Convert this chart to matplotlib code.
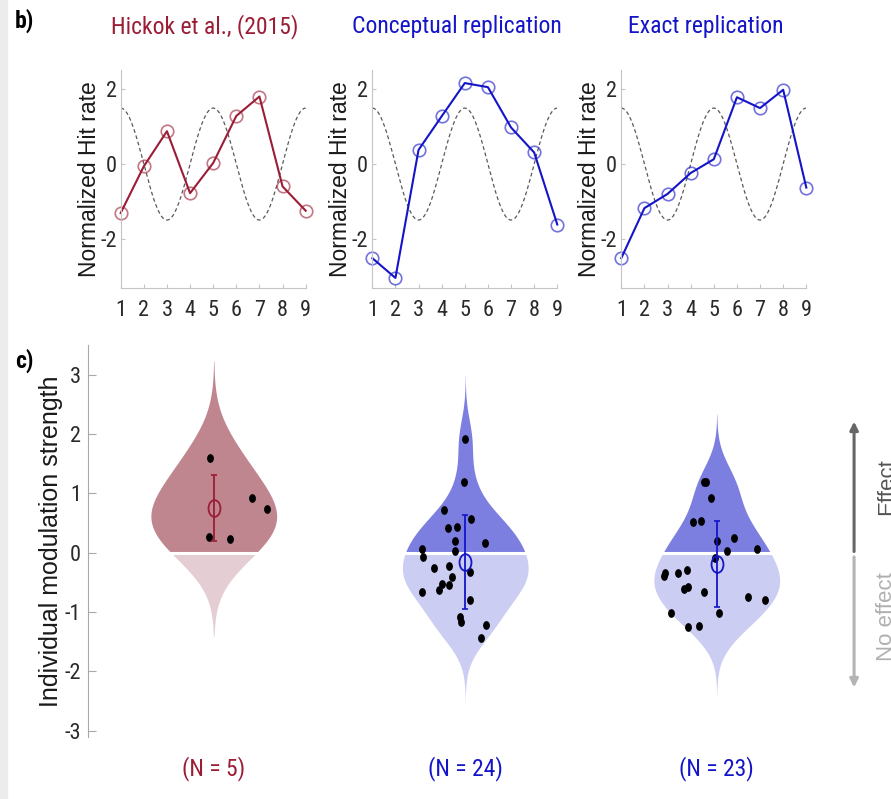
import numpy as np
import matplotlib
matplotlib.use("Agg")
import matplotlib.pyplot as plt
from matplotlib import font_manager as fm
from matplotlib.markers import MarkerStyle
from matplotlib.patches import Rectangle
from matplotlib.transforms import Affine2D

plt.rcParams["axes.unicode_minus"] = False

# -------------------------
# DATA
# -------------------------
phase_bins = [1, 2, 3, 4, 5, 6, 7, 8, 9]
hickok_hits = [-1.31, -0.06, 0.88, -0.78, 0.03, 1.29, 1.81, -0.60, -1.25]
conceptual_hits = [-2.52, -3.05, 0.38, 1.28, 2.17, 2.06, 0.98, 0.31, -1.62]
exact_hits = [-2.52, -1.18, -0.80, -0.24, 0.13, 1.79, 1.50, 1.99, -0.63]

# reference modulation drawn as dashed line
cos_amplitude = 1.5
cos_period = 4.0

group_titles = ["Hickok et al., (2015)", "Conceptual replication", "Exact replication"]
group_n_labels = ["(N = 5)", "(N = 24)", "(N = 23)"]

hickok_strength = [1.59, 0.26, 0.23, 0.93, 0.74]
hickok_jitter = [-0.015, -0.020, 0.066, 0.152, 0.210]

conceptual_strength = [1.91, 1.19, 0.72, 0.56, 0.41, 0.43, 0.20, 0.16, 0.07, 0.03,
                       -0.07, -0.26, -0.22, -0.33, -0.41, -0.52, -0.54, -0.63, -0.66,
                       -0.80, -1.08, -1.16, -1.22, -1.44]
conceptual_jitter = [0.000, -0.004, -0.083, 0.023, -0.068, -0.033, -0.040, 0.078, -0.170,
                     -0.041, -0.168, -0.126, -0.065, 0.017, -0.053, -0.091, -0.064, -0.103,
                     -0.171, 0.020, -0.021, -0.018, 0.082, 0.061]

exact_strength = [1.20, 1.19, 0.93, 0.51, 0.53, 0.25, 0.19, 0.03, 0.06, -0.09,
                  -0.34, -0.40, -0.35, -0.29, -0.58, -0.61, -0.66, -0.75, -0.79,
                  -1.01, -1.01, -1.23, -1.26]
exact_jitter = [-0.050, -0.044, -0.023, -0.094, -0.061, 0.070, 0.000, 0.040, 0.160, -0.007,
                -0.206, -0.210, -0.156, -0.120, -0.113, -0.132, -0.049, 0.126, 0.190,
                -0.180, 0.009, -0.072, -0.114]

# -------------------------
# STYLE
# -------------------------
RED = "#9b1c35"
BLUE = "#1414c8"
line_colors = [RED, BLUE, BLUE]
violin_hi = ["#c0868f", "#7c7fe0", "#7c7fe0"]
violin_lo = ["#e4cdd3", "#cbcdf3", "#cbcdf3"]
SPINE = "#c4c4c4"
TICKTXT = "#2a2a2a"


def pick_font(candidates, default="DejaVu Sans"):
    for fam in candidates:
        try:
            fm.findfont(fm.FontProperties(family=fam), fallback_to_default=False)
            return fam
        except ValueError:
            continue
    return default


NARROW = pick_font(["Liberation Sans Narrow", "Roboto Condensed", "Open Sans Condensed",
                    "Liberation Sans"])
REGULAR = pick_font(["Liberation Sans", "Noto Sans"])

W, H = 891, 799
fig = plt.figure(figsize=(W / 100, H / 100), dpi=100)
fig.patches.append(Rectangle((0, 0), 7 / W, 1, transform=fig.transFigure,
                             color="#ececec", zorder=-10))


def px_box(left, top, right, bottom):
    return [left / W, 1 - bottom / H, (right - left) / W, (bottom - top) / H]


def kde_violin(ax, pos, vals, c_hi, c_lo, half_width=0.25):
    # ksdensity-style normal kernel, bandwidth from MAD, range +/- 3 bw
    vals = np.asarray(vals, dtype=float)
    med = np.median(vals)
    bw = np.median(np.abs(vals - med)) / 0.6745 * (4 / (3 * len(vals))) ** 0.2
    grid = np.linspace(vals.min() - 3 * bw, vals.max() + 3 * bw, 500)
    grid = np.union1d(grid, [0.0])
    dens = np.exp(-0.5 * ((grid[:, None] - vals[None, :]) / bw) ** 2).sum(axis=1)
    w = half_width * dens / dens.max()
    up = grid >= 0
    lo = grid <= 0
    ax.fill_betweenx(grid[up], pos - w[up], pos + w[up], color=c_hi, lw=0, zorder=1)
    ax.fill_betweenx(grid[lo], pos - w[lo], pos + w[lo], color=c_lo, lw=0, zorder=1)
    w0 = np.interp(0.0, grid, w)
    ax.plot([pos - w0 - 0.02, pos + w0 + 0.02], [0, 0], color="white", lw=2.2, zorder=2)


# -------------------------
# PANEL b) : hit rate per phase bin
# -------------------------
series = [hickok_hits, conceptual_hits, exact_hits]
top_lefts = [120.7, 372.3, 621.3]
xs = np.linspace(phase_bins[0], phase_bins[-1], 300)
ref_wave = cos_amplitude * np.cos(2 * np.pi * (xs - phase_bins[0]) / cos_period)

for left, hits, col, title in zip(top_lefts, series, line_colors, group_titles):
    ax = fig.add_axes(px_box(left, 70, left + 185, 288))
    ax.plot(xs, ref_wave, color="0.35", lw=0.9, dashes=(3, 2.2))
    ax.plot(phase_bins, hits, color=col, lw=1.5, marker="o", ms=9,
            mfc="none", mec=matplotlib.colors.to_rgba(col, 0.6), mew=1.2, clip_on=False)
    ax.set_xlim(1, 9)
    ax.set_ylim(-3.32, 2.52)
    ax.set_xticks(phase_bins)
    ax.set_yticks([-2, 0, 2])
    for s in ("top", "right"):
        ax.spines[s].set_visible(False)
    for s in ("left", "bottom"):
        ax.spines[s].set_color(SPINE)
        ax.spines[s].set_linewidth(0.8)
    ax.tick_params(direction="in", length=3, color=SPINE, labelcolor=TICKTXT)
    ax.tick_params(axis="x", pad=9, labelsize=16)
    ax.tick_params(axis="y", pad=3, labelsize=16)
    for lab in ax.get_xticklabels() + ax.get_yticklabels():
        lab.set_family(NARROW)
    ax.set_ylabel("Normalized Hit rate", fontsize=16.5, family=REGULAR, color="#1a1a1a")
    ax.yaxis.set_label_coords(-0.108, 0.5)
    ax.text(0.455, 1.2, title, transform=ax.transAxes, ha="center", va="center",
            fontsize=17, family=NARROW, color=col)

fig.text(24 / W, 1 - 21 / H, "b)", fontsize=17, fontweight="bold", family=NARROW,
         ha="center", va="center")

# -------------------------
# PANEL c) : individual modulation strength
# -------------------------
axc = fig.add_axes(px_box(88, 345, 842.5, 736.7))
groups = [hickok_strength, conceptual_strength, exact_strength]
jitters = [hickok_jitter, conceptual_jitter, exact_jitter]
positions = [1, 2, 3]

dot_marker = MarkerStyle("o", transform=Affine2D().scale(1, 1.35))
mean_marker = MarkerStyle("o", fillstyle="none", transform=Affine2D().scale(1, 1.4))

for pos, vals, jit, col, chi, clo in zip(positions, groups, jitters, line_colors,
                                         violin_hi, violin_lo):
    kde_violin(axc, pos, vals, chi, clo)
    axc.plot(pos + np.asarray(jit), vals, ls="none", marker=dot_marker, ms=3.9,
             color="black", zorder=3)
    m = np.mean(vals)
    sd = np.std(vals, ddof=1)
    axc.errorbar(pos, m, yerr=sd, fmt="none", ecolor=col, elinewidth=1.3,
                 capsize=2.5, capthick=1.2, zorder=4)
    axc.plot(pos, m, ls="none", marker=mean_marker, ms=8.6, mec=col, mew=1.3, zorder=5)

axc.set_xlim(0.5, 3.5)
axc.set_ylim(-3.1, 3.5)
axc.set_yticks([-3, -2, -1, 0, 1, 2, 3])
axc.set_xticks(positions, group_n_labels)
for lab, col in zip(axc.get_xticklabels(), line_colors):
    lab.set_color(col)
    lab.set_family(NARROW)
    lab.set_fontsize(17)
for lab in axc.get_yticklabels():
    lab.set_family(NARROW)
axc.tick_params(axis="x", length=0, pad=14)
axc.tick_params(axis="y", direction="in", length=6, color="#a8a8a8", labelcolor=TICKTXT,
                labelsize=16, pad=5)
for s in ("top", "right", "bottom"):
    axc.spines[s].set_visible(False)
axc.spines["left"].set_color("#a8a8a8")
axc.spines["left"].set_linewidth(0.8)
axc.set_ylabel("Individual modulation strength", fontsize=18, family=REGULAR,
               color="#1a1a1a")
axc.yaxis.set_label_coords(-0.033, 0.5)

# effect / no-effect guide arrows (text runs off the right edge as in the source)
arrow_x = 3.546
axc.annotate("", xy=(arrow_x, 2.21), xytext=(arrow_x, 0.02),
             arrowprops=dict(arrowstyle="-|>", color="#666666", lw=2.2,
                             mutation_scale=12, shrinkA=0, shrinkB=0),
             annotation_clip=False)
axc.annotate("", xy=(arrow_x, -2.27), xytext=(arrow_x, -0.07),
             arrowprops=dict(arrowstyle="-|>", color="#b4b4b4", lw=2.2,
                             mutation_scale=12, shrinkA=0, shrinkB=0),
             annotation_clip=False)
axc.text(3.675, 1.12, "Effect", rotation=90, ha="center", va="center", fontsize=16,
         family=REGULAR, color="#555555", clip_on=False)
axc.text(3.675, -1.08, "No effect", rotation=90, ha="center", va="center", fontsize=16,
         family=REGULAR, color="#b0b0b0", clip_on=False)

fig.text(24 / W, 1 - 361 / H, "c)", fontsize=17, fontweight="bold", family=NARROW,
         ha="center", va="center")

fig.savefig("out.png", dpi=100)
